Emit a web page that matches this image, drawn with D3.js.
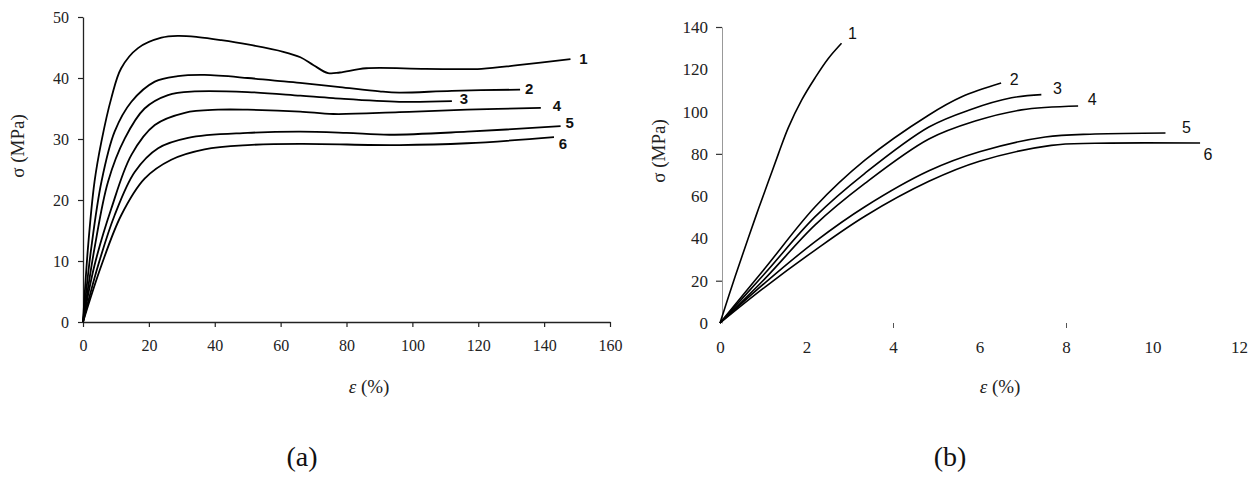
<!DOCTYPE html>
<html><head><meta charset="utf-8">
<script src="https://cdn.jsdelivr.net/npm/d3@7/dist/d3.min.js"></script>
<style>body{margin:0;background:#fff}svg{display:block}</style>
</head><body><svg id="c" width="1252" height="483"></svg>
<script>
// Panel (a) data: strain (%) and stress (MPa)
const aEps1 = [0,1.5,3.5,5.6,8.6,11.6,16.7,23.8,28.8,34.9,42,50,60.8,66,70,74.4,78,86,104,121,132,148];
const aSig1 = [0,12.1,23,29.6,36.7,41.6,44.9,46.6,46.9,46.7,46.2,45.5,44.3,43.4,42.1,40.8,40.9,41.6,41.5,41.5,42.1,43.1];
const aEps2 = [0,2.5,5.6,9.6,14.7,21.8,28.8,36.9,50,57.6,65.9,78,90,96,112,132.7];
const aSig2 = [0,12.1,23,31.2,36.1,39.4,40.3,40.5,40,39.6,39.2,38.5,37.8,37.6,37.9,38.1];
const aEps3 = [0,3.5,7.6,12.7,18.7,25.8,33.9,50,66,76,96,112];
const aSig3 = [0,12.1,23,30.1,35,37.2,37.8,37.7,37.1,36.7,36.1,36.2];
const aEps4 = [0,3.5,8.6,14.7,21.8,30.9,41,50,65.9,76,96,116.6,139];
const aSig4 = [0,9.3,18.6,27.4,32.3,34.3,34.8,34.8,34.5,34.1,34.4,34.8,35.1];
const aEps5 = [0,4.6,9.6,15.7,22.8,31.9,50,65.9,80,93,116.6,145];
const aSig5 = [0,9.3,17.5,24.6,28.5,30.2,31,31.2,31,30.7,31.2,32.1];
const aEps6 = [0,5.6,11.6,18.7,26.8,36.9,50,65.9,96,116.6,143];
const aSig6 = [0,9.3,17.5,23.5,26.6,28.3,29,29.2,29,29.3,30.3];
const aLabels = ["1","2","3","4","5","6"];
const aXTicks = [0,20,40,60,80,100,120,140,160];
const aYTicks = [0,10,20,30,40,50];

// Panel (b) data
const bEps1 = [0,0.35,0.65,0.89,1.12,1.35,1.58,1.89,2.2,2.5,2.81];
const bSig1 = [0,22,40,54,67,80,92.4,105.5,116,125,132.3];
const bEps2 = [0,1.04,2.2,3.35,4.83,5.59,6.5];
const bSig2 = [0,25.9,55,77,98.4,107,113.5];
const bEps3 = [0,1.04,2.2,3.35,4.83,5.8,6.74,7.43];
const bSig3 = [0,23.5,50.3,70.8,92.7,101,106.5,108];
const bEps4 = [0,1.04,2.2,3.35,4.83,5.9,6.97,8.28];
const bSig4 = [0,21,46.4,66,87,95.5,100.8,102.6];
const bEps5 = [0,1.04,2.2,3.35,4.83,6,7.52,8.67,10.3];
const bSig5 = [0,19,38.5,55,72,81,88,89.4,89.9];
const bEps6 = [0,1.04,2.2,3.35,4.83,6,7.66,8.67,11.1];
const bSig6 = [0,17,34.5,50.5,67,76.5,84,85,85.1];
const bLabels = ["1","2","3","4","5","6"];
const bXTicks = [0,2,4,6,8,10,12];
const bYTicks = [0,20,40,60,80,100,120,140];

const svg = d3.select("#c");
const serif = "'Liberation Serif','Times New Roman',serif";
const sans = "'Liberation Sans',Arial,sans-serif";

function zip(xs, ys){ return xs.map((x,i)=>({x, y: ys[i]})); }

// ---------- Panel (a)
{
  const x = d3.scaleLinear().domain([0,160]).range([83,610]);
  const y = d3.scaleLinear().domain([0,50]).range([322,17]);
  const g = svg.append("g");
  const xa = g.append("g").attr("transform","translate(0,322)")
    .call(d3.axisBottom(x).tickValues(aXTicks).tickSize(5).tickSizeOuter(0).tickPadding(13));
  const ya = g.append("g").attr("transform","translate(83,0)")
    .call(d3.axisLeft(y).tickValues(aYTicks).tickSize(5).tickSizeOuter(0).tickPadding(9));
  [xa,ya].forEach(a=>{
    a.selectAll("path.domain").attr("stroke","#222").attr("stroke-width",1.3);
    a.selectAll(".tick line").attr("stroke","#222").attr("stroke-width",1.2);
    a.selectAll("text").attr("font-family",serif).attr("font-size",16).attr("fill","#222");
  });
  const line = d3.line().x(d=>x(d.x)).y(d=>y(d.y)).curve(d3.curveCatmullRom.alpha(0.5));
  const series = [zip(aEps1,aSig1),zip(aEps2,aSig2),zip(aEps3,aSig3),zip(aEps4,aSig4),zip(aEps5,aSig5),zip(aEps6,aSig6)];
  const labOff = [[13,0],[9,-1],[12,-2],[16,-2],[9,-3],[9,7]];
  series.forEach((s,i)=>{
    g.append("path").attr("d",line(s)).attr("fill","none").attr("stroke","#000").attr("stroke-width",1.8);
    const last = s[s.length-1];
    g.append("text").attr("x",x(last.x)+labOff[i][0]).attr("y",y(last.y)+labOff[i][1])
      .attr("dy","0.35em").attr("text-anchor","middle").attr("font-family",sans).attr("font-size",15).attr("font-weight","bold")
      .attr("fill","#111").text(aLabels[i]);
  });
  g.append("text").attr("x",369).attr("y",393).attr("text-anchor","middle")
    .attr("font-family",serif).attr("font-size",19).attr("fill","#222")
    .html("<tspan font-style='italic'>ε</tspan> (%)");
  g.append("text").attr("transform","translate(24,146) rotate(-90)").attr("text-anchor","middle")
    .attr("font-family",serif).attr("font-size",19).attr("fill","#222").text("σ (MPa)");
  g.append("text").attr("x",302).attr("y",466).attr("text-anchor","middle")
    .attr("font-family",serif).attr("font-size",28).attr("fill","#111").text("(a)");
}

// ---------- Panel (b)
{
  const x = d3.scaleLinear().domain([0,12]).range([720,1239]);
  const y = d3.scaleLinear().domain([0,140]).range([323,27]);
  const g = svg.append("g");
  const xa = g.append("g").attr("transform","translate(0,323)")
    .call(d3.axisBottom(x).tickValues(bXTicks).tickSize(5).tickSizeOuter(0).tickPadding(13));
  xa.select("path.domain").remove();
  xa.selectAll(".tick line").attr("stroke","#555").attr("stroke-width",1)
    .attr("opacity",d=> (d===4||d===8)?1:0);
  const ya = g.append("g").attr("transform","translate(722,0)")
    .call(d3.axisLeft(y).tickValues(bYTicks).tickSize(6).tickSizeOuter(0).tickPadding(8));
  ya.select("path.domain").attr("stroke","#999").attr("stroke-width",1);
  ya.selectAll(".tick line").attr("stroke","#333").attr("stroke-width",1.2)
    .attr("opacity",d=> (d===140||d===80||d===20)?1:0);
  [xa,ya].forEach(a=>a.selectAll("text").attr("font-family",serif).attr("font-size",17).attr("fill","#222"));
  const line = d3.line().x(d=>x(d.x)).y(d=>y(d.y)).curve(d3.curveCatmullRom.alpha(0.5));
  const series = [zip(bEps1,bSig1),zip(bEps2,bSig2),zip(bEps3,bSig3),zip(bEps4,bSig4),zip(bEps5,bSig5),zip(bEps6,bSig6)];
  const labOff = [[11,-10],[13,-4],[16,-6],[14,-7],[21,-6],[8,11]];
  series.forEach((s,i)=>{
    g.append("path").attr("d",line(s)).attr("fill","none").attr("stroke","#000").attr("stroke-width",1.6);
    const last = s[s.length-1];
    g.append("text").attr("x",x(last.x)+labOff[i][0]).attr("y",y(last.y)+labOff[i][1])
      .attr("dy","0.35em").attr("text-anchor","middle").attr("font-family",sans).attr("font-size",16)
      .attr("fill","#111").text(bLabels[i]);
  });
  g.append("text").attr("x",1000).attr("y",393).attr("text-anchor","middle")
    .attr("font-family",serif).attr("font-size",19).attr("fill","#222")
    .html("<tspan font-style='italic'>ε</tspan> (%)");
  g.append("text").attr("transform","translate(665,151) rotate(-90)").attr("text-anchor","middle")
    .attr("font-family",serif).attr("font-size",19).attr("fill","#222").text("σ (MPa)");
  g.append("text").attr("x",950).attr("y",466).attr("text-anchor","middle")
    .attr("font-family",serif).attr("font-size",28).attr("fill","#111").text("(b)");
}
</script></body></html>
